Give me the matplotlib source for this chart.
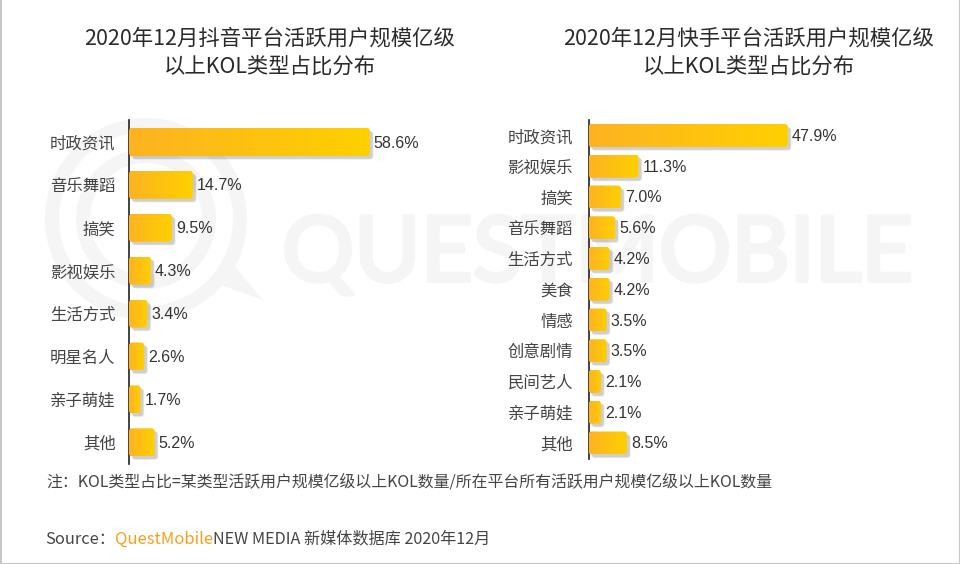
import numpy as np
import matplotlib
matplotlib.use('Agg')
import matplotlib.pyplot as plt
import matplotlib.patheffects as pe
from matplotlib.colors import LinearSegmentedColormap
from matplotlib.patches import FancyBboxPatch, Circle, Rectangle, Polygon

plt.rcParams['font.family'] = ['Noto Sans CJK SC', 'DejaVu Sans']

title_left = '2020年12月抖音平台活跃用户规模亿级\n以上KOL类型占比分布'
title_right = '2020年12月快手平台活跃用户规模亿级\n以上KOL类型占比分布'
cats_left = ['时政资讯', '音乐舞蹈', '搞笑', '影视娱乐', '生活方式', '明星名人', '亲子萌娃', '其他']
vals_left = [58.6, 14.7, 9.5, 4.3, 3.4, 2.6, 1.7, 5.2]
cats_right = ['时政资讯', '影视娱乐', '搞笑', '音乐舞蹈', '生活方式', '美食', '情感', '创意剧情', '民间艺人', '亲子萌娃', '其他']
vals_right = [47.9, 11.3, 7.0, 5.6, 4.2, 4.2, 3.5, 3.5, 2.1, 2.1, 8.5]

W, H = 960, 564
fig = plt.figure(figsize=(W / 100, H / 100), dpi=100, facecolor='white')

# background layer in pixel coords
bg = fig.add_axes([0, 0, 1, 1], zorder=0)
bg.set_xlim(0, W)
bg.set_ylim(H, 0)
bg.axis('off')

wm = '#f5f5f5'
bg.add_patch(Circle((146, 219), 101, fc=wm, ec='none'))
bg.add_patch(Polygon([(223, 253), (263, 300), (207, 280)], fc=wm, ec='none'))
bg.add_patch(Circle((146, 219), 87, fc='white', ec='none'))
bg.add_patch(Circle((146, 219), 70, fc=wm, ec='none'))
bg.add_patch(Circle((146, 219), 56, fc='white', ec='none'))
bg.text(282, 256, 'QUESTMOBILE', family='Lato', fontsize=65, color=wm, va='center', ha='left',
        path_effects=[pe.withStroke(linewidth=3, foreground=wm)])

# frame
bg.add_patch(Rectangle((0.5, -2), W - 1, H + 1.5, fc='none', ec='#c8c8c8', lw=1.5))

bg.text(269.5, 52.5, title_left, ha='center', va='center', fontsize=15.4, color='#2a2a2a', linespacing=1.36)
bg.text(749, 52.5, title_right, ha='center', va='center', fontsize=15.4, color='#2a2a2a', linespacing=1.36)

bg.text(46, 482, '注：KOL类型占比=某类型活跃用户规模亿级以上KOL数量/所在平台所有活跃用户规模亿级以上KOL数量',
        fontsize=11.45, color='#444444', va='center')
bg.text(45, 539, 'Source：', fontsize=11.8, color='#444444', va='center')
bg.text(115, 539, 'QuestMobile', fontsize=12, color='#f9a01b', va='center')
bg.text(213, 539, 'NEW MEDIA 新媒体数据库 2020年12月', fontsize=11.65, color='#444444', va='center')

cmap = LinearSegmentedColormap.from_list('bar', ['#fdb321', '#ffd000'])


def draw_panel(cats, vals, left_px, top_px, bottom_px, px_per_val, base_px, first_px, pitch, bar_h, label_pad):
    ax = fig.add_axes([left_px / W, 1 - bottom_px / H, (W - left_px) / W, (bottom_px - top_px) / H], zorder=1)
    ax.patch.set_alpha(0)
    # bars come out of the axis line, so value 0 sits a little left of it
    x0 = -base_px / px_per_val
    x1 = x0 + (W - left_px) / px_per_val
    y0 = (bottom_px - first_px) / pitch
    y1 = (top_px - first_px) / pitch
    for s in ['top', 'right', 'bottom']:
        ax.spines[s].set_visible(False)
    ax.spines['left'].set_color('#222222')
    ax.spines['left'].set_linewidth(1.2)
    ax.set_xticks([])
    ax.set_yticks(range(len(cats)))
    ax.set_yticklabels(cats, fontsize=11.8, color='#444444')
    ax.tick_params(axis='y', length=0, pad=label_pad)

    h = bar_h / pitch
    rx = 3 / px_per_val
    ry = 3 / pitch
    for i, v in enumerate(vals):
        w = v - x0
        # soft shadow
        for k, a in [(3.5, 0.06), (2.5, 0.10), (1.5, 0.14)]:
            dx = (2 + k * 0.5) / px_per_val
            dy = (2 + k * 0.5) / pitch
            ax.add_patch(FancyBboxPatch((x0 + rx + dx, i - h / 2 + ry + dy), w - 2 * rx, h - 2 * ry,
                                        boxstyle=f'round,pad={rx},rounding_size={rx}',
                                        mutation_aspect=ry / rx, fc='#555555', ec='none', alpha=a, zorder=2))
        box = FancyBboxPatch((x0 + rx, i - h / 2 + ry), w - 2 * rx, h - 2 * ry,
                             boxstyle=f'round,pad={rx},rounding_size={rx}',
                             mutation_aspect=ry / rx, fc='none', ec='none', zorder=3)
        ax.add_patch(box)
        im = ax.imshow(np.linspace(0, 1, 64).reshape(1, -1), extent=(x0, v, i + h / 2, i - h / 2),
                       cmap=cmap, aspect='auto', zorder=3)
        im.set_clip_path(box)
        ax.text(v + 4 / px_per_val, i + 1 / pitch, f'{v}%', family='Liberation Sans', fontsize=11.5,
                color='#333333', va='center', ha='left', zorder=4)
    # imshow resets the limits
    ax.set_xlim(x0, x1)
    ax.set_ylim(y0, y1)


draw_panel(cats_left, vals_left, 129, 120, 464, 4.03, 4.7, 142, 42.9, 28, 9.7)
draw_panel(cats_right, vals_right, 588.5, 120, 459, 4.08, 3.9, 135.5, 30.75, 23, 11.2)

fig.savefig('out.png', dpi=100)
